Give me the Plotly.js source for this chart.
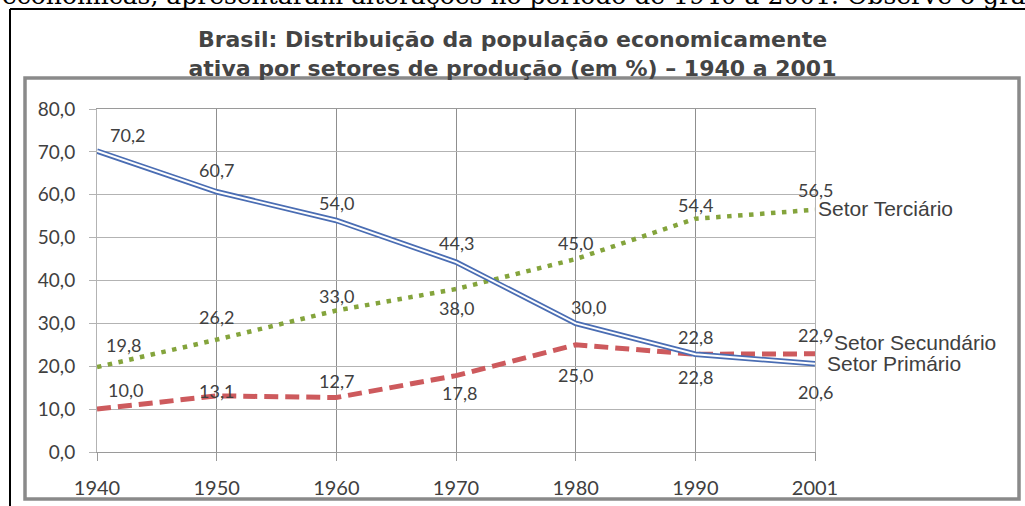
<!DOCTYPE html>
<html><head><meta charset="utf-8">
<script src="https://cdn.plot.ly/plotly-3.0.1.min.js"></script>
<style>html,body{margin:0;padding:0;background:#fff;} #chart{width:1025px;height:506px;}</style>
</head><body><div id="chart"></div>
<script>
// ---- data ----
const years = ['1940','1950','1960','1970','1980','1990','2001'];
const primario = [70.2, 60.7, 54.0, 44.3, 30.0, 22.8, 20.6];
const secundario = [10.0, 13.1, 12.7, 17.8, 25.0, 22.8, 22.9];
const terciario = [19.8, 26.2, 33.0, 38.0, 45.0, 54.4, 56.5];
const seriesNames = ['Setor Primário', 'Setor Secundário', 'Setor Terciário'];
const titleText = 'Brasil: Distribuição da população economicamente<br>ativa por setores de produção (em %) – 1940 a 2001';
const cutText = 'econômicas, apresentaram alterações no período de 1940 a 2001. Observe o gráfico';

// ---- label placement (pixel offsets, style only) ----
const offPrim = [[30,16],[0,22],[0,17],[0,19],[13,16],[0,17],[0,-28]];
const offSec  = [[28,19],[0,5],[0,17],[3,-17],[0,-30],[0,-23],[0,19]];
const offTer  = [[26,22],[0,23],[0,15],[0,-19],[0,16],[0,14],[0,20]];
const nameOff = [[10,0],[17,11],[1,1]];

// pixel -> paper helpers (plot area: x 97..815, y 109..452)
const PL = 97, PR = 815, PT = 109, PB = 452;
const X = px => (px - PL) / (PR - PL);
const Y = py => (PB - py) / (PB - PT);

const fmt = v => v.toFixed(1).replace('.', ',');
const labelFont = {family: 'Lato, Liberation Sans, sans-serif', size: 18, color: '#404040'};

function makeLabels(vals, offs) {
  return vals.map((v, i) => ({
    x: years.indexOf(years[i]), y: v, xref: 'x', yref: 'y', text: fmt(v), showarrow: false,
    xanchor: 'center', yanchor: 'middle',
    xshift: offs[i][0], yshift: offs[i][1], font: Object.assign({}, labelFont)
  }));
}

const blue = '#4a6db3', red = '#cd5a5d', green = '#84a43c';

const traces = [
  {x: years, y: terciario, type: 'scatter', mode: 'lines', name: seriesNames[2],
   line: {color: green, width: 4.5, dash: '4.5px,6.5px'}, hoverinfo: 'skip'},
  {x: years, y: secundario, type: 'scatter', mode: 'lines', name: seriesNames[1],
   line: {color: red, width: 5, dash: '14px,7px'}, hoverinfo: 'skip'},
  {x: years, y: primario, type: 'scatter', mode: 'lines', name: seriesNames[0],
   line: {color: blue, width: 5.5}, hoverinfo: 'skip'},
  {x: years, y: primario, type: 'scatter', mode: 'lines', showlegend: false,
   line: {color: '#ffffff', width: 2}, hoverinfo: 'skip'}
];

const last = years.length - 1;
const nameFont = {family: 'Liberation Sans, Arial, sans-serif', size: 21, color: '#404040'};
const lastVals = [primario[last], secundario[last], terciario[last]];
const nameAnns = seriesNames.map((n, k) => ({
  x: last, y: lastVals[k], xref: 'x', yref: 'y', text: n, showarrow: false,
  xanchor: 'left', yanchor: 'middle', xshift: nameOff[k][0], yshift: nameOff[k][1],
  font: Object.assign({}, nameFont)
}));

const annotations = [
  ...makeLabels(primario, offPrim),
  ...makeLabels(secundario, offSec),
  ...makeLabels(terciario, offTer),
  ...nameAnns,
  {xref: 'paper', yref: 'paper', x: X(0), y: Y(-5), xanchor: 'left', yanchor: 'middle',
   text: cutText, showarrow: false,
   font: {family: 'DejaVu Serif, Liberation Serif, serif', size: 25, color: '#000'}}
];

const layout = {
  width: 1025, height: 506,
  margin: {l: PL, r: 1025 - PR, t: PT, b: 506 - PB},
  paper_bgcolor: '#ffffff', plot_bgcolor: '#ffffff',
  separators: ',.',
  showlegend: false,
  title: {text: titleText, xref: 'container', yref: 'container', x: 0.5, y: 1 - 47 / 506,
          xanchor: 'center', yanchor: 'middle',
          font: {family: 'DejaVu Sans, sans-serif', size: 22, weight: 'bold', color: '#444444'}},
  xaxis: {type: 'category', range: [0, 6], showgrid: true, gridcolor: '#8f8f8f', gridwidth: 1,
          ticks: 'outside', ticklen: 8, tickcolor: '#9a9a9a', ticklabelstandoff: 10,
          tickfont: {family: 'Lato, Liberation Sans, sans-serif', size: 20, color: '#404040'},
          showline: true, mirror: true, linecolor: '#9a9a9a', zeroline: false, fixedrange: true},
  yaxis: {range: [0, 80], dtick: 10, tickformat: '.1f', showgrid: true, gridcolor: '#b3b3b3',
          ticks: 'outside', ticklen: 7, tickcolor: '#b3b3b3', ticklabelstandoff: 10,
          tickfont: {family: 'Lato, Liberation Sans, sans-serif', size: 19, color: '#404040'},
          showline: true, mirror: true, linecolor: '#b3b3b3', zeroline: false, fixedrange: true},
  annotations: annotations,
  shapes: [
    {type: 'line', xref: 'paper', yref: 'paper', x0: X(10), x1: X(1030), y0: Y(9), y1: Y(9),
     line: {color: '#000', width: 2}},
    {type: 'line', xref: 'paper', yref: 'paper', x0: X(10), x1: X(10), y0: Y(9), y1: Y(510),
     line: {color: '#000', width: 2}},
    {type: 'rect', xref: 'paper', yref: 'paper', x0: X(25), x1: X(1019), y0: Y(78), y1: Y(499),
     line: {color: '#8a8a8a', width: 3.5}}
  ]
};

Plotly.newPlot('chart', traces, layout, {displayModeBar: false});
</script>
</body></html>
